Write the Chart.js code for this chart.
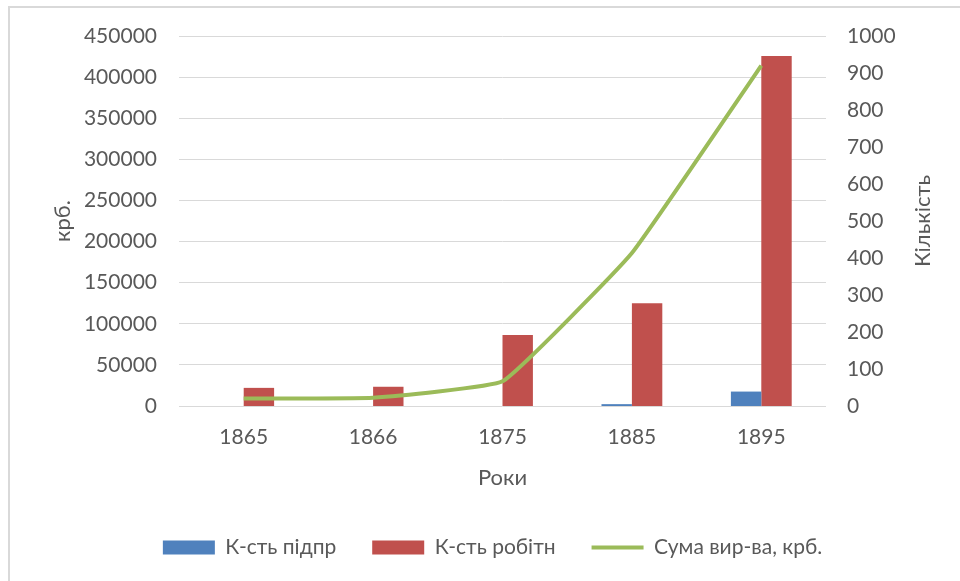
<!DOCTYPE html>
<html>
<head>
<meta charset="utf-8">
<script src="https://cdn.jsdelivr.net/npm/chart.js@4.4.1/dist/chart.umd.min.js"></script>
<style>
  html, body { margin: 0; padding: 0; background: #fff; overflow: hidden; }
  .frame {
    position: absolute; left: 8px; top: 6px;
    width: 1100px; height: 700px;
    border: 2px solid #d9d9d9;
  }
  #chart { position: absolute; left: 0; top: 0; }
</style>
</head>
<body>
<div class="frame"></div>
<canvas id="chart" width="960" height="581"></canvas>
<script>
// Data
const years = ['1865', '1866', '1875', '1885', '1895']
const enterprises = [0, 0, 0, 5, 39]            // К-сть підпр (right axis)
const workers = [49, 52, 192, 278, 946]         // К-сть робітн (right axis)
const output = [9000, 10000, 30000, 186000, 414000] // Сума вир-ва, крб. (left axis)

const rightTitle = 'Кількість'

const textColor = '#595959'
const gridColor = '#d9d9d9'
const fontFamily = 'Lato, "Open Sans", sans-serif'

Chart.defaults.font.family = fontFamily
Chart.defaults.color = textColor

// Right axis title reads bottom-to-top in the original, so draw it ourselves
const rightTitlePlugin = {
  id: 'rightTitle',
  afterDraw(chart) {
    const scale = chart.scales.y1
    const c = chart.ctx
    c.save()
    c.translate(scale.right - 17, (chart.chartArea.top + chart.chartArea.bottom) / 2)
    c.rotate(-Math.PI / 2)
    c.font = '22px ' + fontFamily
    c.fillStyle = textColor
    c.textAlign = 'center'
    c.textBaseline = 'middle'
    c.fillText(rightTitle, 0, 0)
    c.restore()
  }
}

const ctx = document.getElementById('chart').getContext('2d')

new Chart(ctx, {
  type: 'bar',
  data: {
    labels: years,
    datasets: [
      {
        label: 'К-сть підпр',
        data: enterprises,
        backgroundColor: '#4f81bd',
        yAxisID: 'y1',
        order: 2
      },
      {
        label: 'К-сть робітн',
        data: workers,
        backgroundColor: '#c0504d',
        yAxisID: 'y1',
        order: 2
      },
      {
        label: 'Сума вир-ва, крб.',
        type: 'line',
        data: output,
        borderColor: '#9bbb59',
        backgroundColor: '#9bbb59',
        borderWidth: 4,
        tension: 0.1,
        pointRadius: 0,
        fill: false,
        yAxisID: 'y',
        order: 0
      }
    ]
  },
  options: {
    responsive: false,
    animation: false,
    categoryPercentage: 0.47,
    barPercentage: 1,
    layout: {
      padding: { left: 45, right: 20, top: 36, bottom: 13 }
    },
    plugins: {
      tooltip: { enabled: false },
      legend: {
        position: 'bottom',
        labels: {
          usePointStyle: true,
          pointStyleWidth: 52,
          boxHeight: 14,
          padding: 36,
          color: textColor,
          font: { size: 21 },
          generateLabels: (chart) => {
            const items = Chart.defaults.plugins.legend.labels.generateLabels(chart)
            items.forEach(item => {
              if (item.datasetIndex === 2) {
                item.pointStyle = 'line'
                item.strokeStyle = '#9bbb59'
                item.lineWidth = 4
              } else {
                item.pointStyle = 'rect'
                item.lineWidth = 0
              }
            })
            return items.sort((a, b) => a.datasetIndex - b.datasetIndex)
          }
        }
      }
    },
    scales: {
      x: {
        grid: { display: false },
        border: { display: false },
        ticks: { padding: 11, font: { size: 21 }, color: textColor },
        title: {
          display: true,
          text: 'Роки',
          font: { size: 22 },
          color: textColor,
          padding: { top: 0, bottom: 10 }
        },
        afterFit: (scale) => { scale.height = 95 }
      },
      y: {
        position: 'left',
        min: 0,
        max: 450000,
        grid: { color: gridColor, drawTicks: false },
        border: { display: false },
        ticks: {
          stepSize: 50000,
          padding: 22,
          font: { size: 21 },
          color: textColor,
          callback: (v) => String(v)
        },
        title: {
          display: true,
          text: 'крб.',
          font: { size: 22 },
          color: textColor,
          padding: { top: 5, bottom: 0 }
        },
        afterFit: (scale) => { scale.width = 134 }
      },
      y1: {
        position: 'right',
        min: 0,
        max: 1000,
        grid: { display: false, drawTicks: false },
        border: { display: false },
        ticks: {
          stepSize: 100,
          padding: 21,
          font: { size: 21 },
          color: textColor,
          callback: (v) => String(v)
        },
        afterFit: (scale) => { scale.width = 114 }
      }
    }
  },
  plugins: [rightTitlePlugin]
})
</script>
</body>
</html>
